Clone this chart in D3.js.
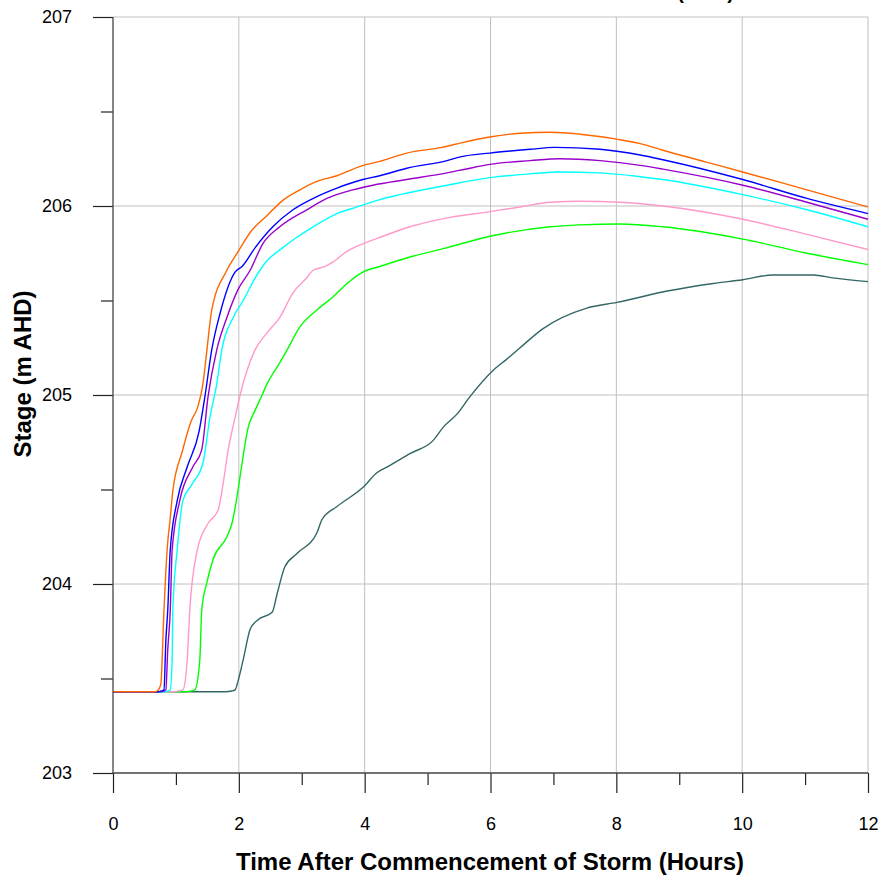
<!DOCTYPE html>
<html>
<head>
<meta charset="utf-8">
<script src="https://cdn.jsdelivr.net/npm/d3@7"></script>
<style>
  html, body { margin: 0; padding: 0; background: #fff; }
  svg { display: block; }
  text { font-family: Arial, "Liberation Sans", sans-serif; }
</style>
</head>
<body>
<svg id="chart" width="887" height="881"></svg>
<script>
// ---- Data (hours after commencement, stage m AHD) ----
const xTicks = [0, 2, 4, 6, 8, 10, 12];
const yTicks = [203, 204, 205, 206, 207];

const seriesOrange = [[0,203.43],[0.67,203.43],[0.72,203.44],[0.76,203.47],[0.81,203.86],[0.86,204.18],[0.91,204.35],[0.95,204.49],[1.1,204.7],[1.24,204.86],[1.35,204.94],[1.43,205.06],[1.48,205.2],[1.57,205.45],[1.81,205.66],[1.99,205.76],[2.18,205.86],[2.45,205.95],[2.7,206.03],[2.97,206.085],[3.24,206.13],[3.56,206.16],[3.93,206.21],[4.24,206.236],[4.67,206.28],[5.23,206.31],[5.52,206.333],[5.99,206.365],[6.47,206.385],[6.95,206.39],[7.42,206.38],[8.0,206.354],[8.38,206.33],[8.74,206.295],[9.4,206.235],[10.01,206.18],[11.03,206.085],[12,205.995]];
const seriesBlue = [[0,203.43],[0.72,203.43],[0.75,203.432],[0.81,203.44],[0.84,203.7],[0.87,203.86],[0.91,204.18],[1.02,204.44],[1.18,204.62],[1.37,204.81],[1.46,204.99],[1.57,205.24],[1.7,205.43],[1.94,205.65],[2.05,205.68],[2.26,205.78],[2.54,205.89],[2.86,205.98],[3.24,206.05],[3.56,206.095],[3.97,206.14],[4.24,206.16],[4.67,206.2],[5.31,206.24],[5.52,206.26],[5.99,206.28],[6.63,206.3],[7.02,206.31],[7.74,206.3],[8.38,206.27],[8.74,206.245],[10.01,206.14],[11.03,206.04],[12,205.96]];
const seriesPurple = [[0,203.43],[0.76,203.43],[0.79,203.432],[0.84,203.44],[0.87,203.65],[0.91,203.86],[0.94,204.18],[1.06,204.44],[1.27,204.62],[1.41,204.71],[1.51,204.99],[1.65,205.24],[1.81,205.41],[1.99,205.56],[2.18,205.66],[2.38,205.8],[2.65,205.89],[3.08,205.98],[3.4,206.04],[3.81,206.085],[4.13,206.11],[4.67,206.14],[5.31,206.175],[5.67,206.2],[5.99,206.22],[6.63,206.24],[7.1,206.25],[7.74,206.24],[8.38,206.215],[8.74,206.195],[10.01,206.11],[11.03,206.02],[12,205.93]];
const seriesCyan = [[0,203.43],[0.82,203.43],[0.85,203.432],[0.91,203.44],[0.94,203.6],[0.95,203.86],[1.02,204.18],[1.11,204.44],[1.26,204.53],[1.43,204.64],[1.54,204.88],[1.65,205.06],[1.73,205.24],[1.91,205.41],[2.07,205.5],[2.26,205.62],[2.42,205.7],[2.7,205.78],[2.86,205.82],[3.18,205.89],[3.56,205.96],[3.88,205.995],[4.2,206.03],[4.56,206.06],[5.31,206.11],[5.99,206.15],[6.63,206.17],[7.1,206.18],[7.74,206.175],[8.38,206.155],[8.74,206.14],[10.01,206.06],[11.03,205.98],[12,205.89]];
const seriesPink = [[0,203.43],[0.96,203.43],[1.0,203.432],[1.11,203.44],[1.18,203.6],[1.22,203.86],[1.34,204.18],[1.51,204.32],[1.67,204.39],[1.75,204.53],[1.83,204.71],[1.94,204.88],[2.02,205.0],[2.13,205.13],[2.26,205.24],[2.45,205.33],[2.65,205.41],[2.86,205.54],[3.08,205.62],[3.18,205.66],[3.37,205.68],[3.48,205.7],[3.72,205.76],[3.97,205.8],[4.29,205.84],[4.72,205.89],[5.36,205.94],[5.99,205.97],[6.47,205.995],[6.95,206.02],[7.42,206.025],[8.06,206.02],[8.74,206.0],[10.01,205.93],[11.03,205.85],[12,205.77]];
const seriesGreen = [[0,203.43],[1.16,203.43],[1.21,203.432],[1.3,203.44],[1.38,203.6],[1.41,203.86],[1.49,204.005],[1.59,204.13],[1.81,204.25],[1.89,204.32],[1.97,204.46],[2.02,204.57],[2.15,204.83],[2.26,204.92],[2.37,205.0],[2.45,205.06],[2.65,205.17],[2.77,205.24],[2.97,205.36],[3.24,205.45],[3.5,205.52],[3.72,205.59],[3.97,205.65],[4.24,205.68],[4.72,205.73],[5.31,205.78],[5.99,205.84],[6.95,205.89],[7.42,205.9],[8.06,205.905],[8.74,205.89],[10.01,205.825],[11.03,205.75],[12,205.69]];
const seriesSlate = [[0,203.43],[1.78,203.43],[1.89,203.434],[1.94,203.44],[1.99,203.49],[2.07,203.6],[2.18,203.76],[2.3,203.81],[2.53,203.85],[2.61,203.95],[2.73,204.09],[2.92,204.16],[3.24,204.27],[3.32,204.34],[3.56,204.41],[3.97,204.51],[4.2,204.59],[4.36,204.62],[4.72,204.69],[5.09,204.76],[5.25,204.83],[5.47,204.9],[5.67,204.99],[6.04,205.13],[6.26,205.19],[6.47,205.25],[6.83,205.35],[7.53,205.46],[8.01,205.49],[8.81,205.55],[9.54,205.59],[10.01,205.61],[10.49,205.635],[11.13,205.635],[11.44,205.62],[12,205.6]];

const seriesList = [seriesSlate, seriesGreen, seriesPink, seriesCyan, seriesPurple, seriesBlue, seriesOrange];
const seriesColors = ["#336666", "#00ff00", "#ff99cc", "#00ffff", "#9900cc", "#0000ff", "#ff6600"];

const titleText = "Flood Levels at Basin Outlet (AHD)";
const xTitle = "Time After Commencement of Storm (Hours)";
const yTitle = "Stage (m AHD)";

// ---- Layout ----
const svg = d3.select("#chart");
const x = d3.scaleLinear().domain([0, 12]).range([113, 868]);
const y = d3.scaleLinear().domain([203, 207]).range([773, 17]);

// Gridlines
const grid = svg.append("g");
grid.selectAll("line.vx").data(xTicks.filter(d => d > 0)).enter().append("line")
  .attr("x1", d => x(d)).attr("x2", d => x(d)).attr("y1", y(207)).attr("y2", y(203))
  .attr("stroke", "#c0c0c0").attr("stroke-width", 1);
grid.selectAll("line.hy").data(yTicks.filter(d => d > 203)).enter().append("line")
  .attr("x1", x(0)).attr("x2", x(12)).attr("y1", d => y(d)).attr("y2", d => y(d))
  .attr("stroke", "#c0c0c0").attr("stroke-width", 1);

// Lines
const line = d3.line().x(d => x(d[0])).y(d => y(d[1])).curve(d3.curveMonotoneX);
svg.append("g").selectAll("path").data(seriesList).enter().append("path")
  .attr("d", line).attr("fill", "none")
  .attr("stroke", (d, i) => seriesColors[i]).attr("stroke-width", 1.4);

// Axes
const xAxis = d3.axisBottom(x).tickValues(xTicks).tickSize(20).tickPadding(24).tickFormat(d3.format("d"));
const xMinor = d3.axisBottom(x).tickValues([1, 3, 5, 7, 9, 11]).tickSize(12).tickFormat("");
const yAxis = d3.axisLeft(y).tickValues(yTicks).tickSize(20).tickPadding(21).tickFormat(d3.format("d"));
const yMinor = d3.axisLeft(y).tickValues([203.5, 204.5, 205.5, 206.5]).tickSize(12).tickFormat("");

function styleAxis(g) {
  g.select(".domain").remove();
  g.selectAll(".tick line").attr("stroke", "#222").attr("stroke-width", 1.2);
  g.selectAll(".tick text").attr("fill", "#000").attr("font-size", 18)
    .attr("font-family", "Arial, 'Liberation Sans', sans-serif");
}
svg.append("g").attr("transform", `translate(0,${y(203)})`).call(xAxis).call(styleAxis);
svg.append("g").attr("transform", `translate(0,${y(203)})`).call(xMinor).call(styleAxis);
svg.append("g").attr("transform", `translate(${x(0)},0)`).call(yAxis).call(styleAxis);
svg.append("g").attr("transform", `translate(${x(0)},0)`).call(yMinor).call(styleAxis);

// Axis lines
svg.append("line").attr("x1", x(0)).attr("x2", x(0)).attr("y1", y(207)).attr("y2", y(203))
  .attr("stroke", "#444").attr("stroke-width", 1.3);
svg.append("line").attr("x1", x(0)).attr("x2", x(12)).attr("y1", y(203)).attr("y2", y(203))
  .attr("stroke", "#444").attr("stroke-width", 1.3);

// Titles (top title is cropped at the page edge, as in the reference)
svg.append("text").attr("x", 734).attr("y", -1).attr("text-anchor", "end")
  .attr("font-size", 20).attr("font-weight", "bold").text(titleText);
svg.append("text").attr("x", 490).attr("y", 870).attr("text-anchor", "middle")
  .attr("font-size", 24).attr("font-weight", "bold").text(xTitle);
svg.append("text").attr("transform", "translate(31,374) rotate(-90)").attr("text-anchor", "middle")
  .attr("font-size", 24).attr("font-weight", "bold").text(yTitle);
</script>
</body>
</html>
